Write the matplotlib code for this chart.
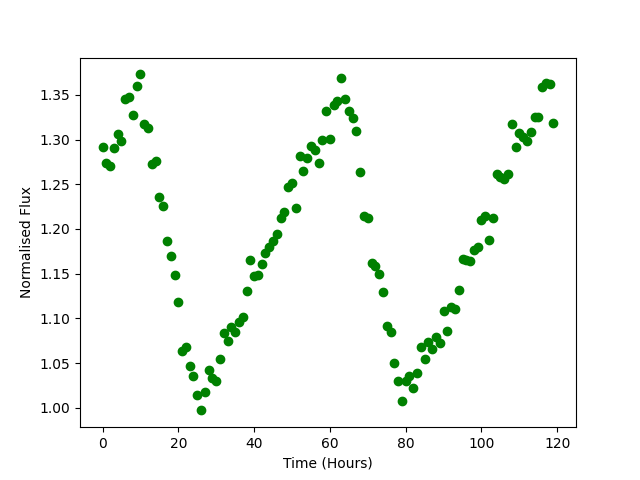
import numpy as np
import matplotlib
matplotlib.use("Agg")
import matplotlib.pyplot as plt

# hourly flux readings
hours = np.arange(0, 120)
flux = [
    1.292, 1.274, 1.271, 1.291, 1.306, 1.299, 1.345, 1.348, 1.328, 1.360,
    1.373, 1.318, 1.313, 1.273, 1.276, 1.236, 1.226, 1.187, 1.170, 1.148,
    1.118, 1.063, 1.068, 1.047, 1.035, 1.014, 0.997, 1.018, 1.042, 1.033,
    1.030, 1.055, 1.084, 1.075, 1.090, 1.085, 1.096, 1.101, 1.131, 1.165,
    1.147, 1.148, 1.161, 1.173, 1.180, 1.187, 1.194, 1.212, 1.219, 1.247,
    1.251, 1.223, 1.282, 1.265, 1.279, 1.293, 1.288, 1.274, 1.300, 1.332,
    1.301, 1.339, 1.343, 1.369, 1.346, 1.332, 1.324, 1.310, 1.264, 1.214,
    1.212, 1.162, 1.159, 1.150, 1.129, 1.091, 1.085, 1.050, 1.030, 1.008,
    1.030, 1.035, 1.022, 1.039, 1.068, 1.054, 1.073, 1.066, 1.079, 1.072,
    1.108, 1.086, 1.113, 1.111, 1.132, 1.166, 1.165, 1.164, 1.177, 1.180,
    1.210, 1.214, 1.188, 1.212, 1.261, 1.258, 1.256, 1.261, 1.317, 1.292,
    1.307, 1.303, 1.299, 1.309, 1.325, 1.325, 1.359, 1.363, 1.362, 1.319,
]

plt.figure(figsize=(6.4, 4.8), dpi=100)
plt.plot(hours, flux, 'go')
plt.xlabel("Time (Hours)")
plt.ylabel("Normalised Flux")
plt.savefig("out.png")
